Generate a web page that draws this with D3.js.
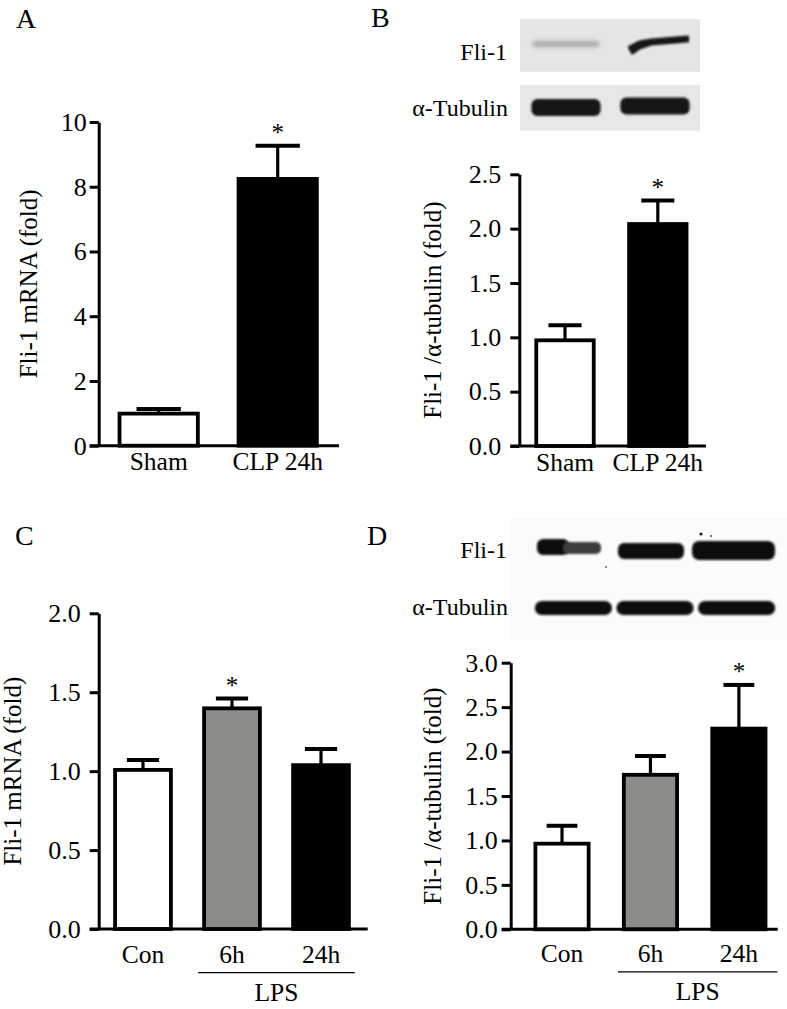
<!DOCTYPE html>
<html><head><meta charset="utf-8">
<script src="https://cdn.jsdelivr.net/npm/d3@7"></script>
<style>
body{margin:0;background:#fff;}
svg{display:block;}
</style></head><body>
<svg id="chart" width="787" height="1009"></svg>
<script>
// ---------- data ----------
const catsA  = ["Sham", "CLP 24h"];
const meanA  = [1.05, 8.30];
const errA   = [0.08, 0.97];
const sigA   = [false, true];
const ticksA = [0, 2, 4, 6, 8, 10];

const catsB  = ["Sham", "CLP 24h"];
const meanB  = [0.99, 2.06];
const errB   = [0.12, 0.20];
const sigB   = [false, true];
const ticksB = [0, 0.5, 1.0, 1.5, 2.0, 2.5];

const catsC  = ["Con", "6h", "24h"];
const meanC  = [1.02, 1.41, 1.05];
const errC   = [0.05, 0.05, 0.09];
const sigC   = [false, true, false];
const ticksC = [0, 0.5, 1.0, 1.5, 2.0];

const catsD  = ["Con", "6h", "24h"];
const meanD  = [0.985, 1.76, 2.28];
const errD   = [0.18, 0.19, 0.47];
const sigD   = [false, false, true];
const ticksD = [0, 0.5, 1.0, 1.5, 2.0, 2.5, 3.0];

const fills2 = ["#ffffff", "#000000"];
const fills3 = ["#ffffff", "#8b8c88", "#000000"];
const panelLetters = ["A", "B", "C", "D"];
const blotLabels = ["Fli-1", "α-Tubulin"];
const groupLabel = "LPS";
const titleMRNA = "Fli-1 mRNA (fold)";
const titleRatio = "Fli-1 /α-tubulin (fold)";

const FONT = "'Liberation Serif', 'Times New Roman', 'DejaVu Serif', serif";

const svg = d3.select("#chart").attr("font-family", FONT);
const defs = svg.append("defs");
defs.append("filter").attr("id","blur1").attr("x","-20%").attr("y","-60%").attr("width","140%").attr("height","220%")
  .append("feGaussianBlur").attr("stdDeviation",1.3);
defs.append("filter").attr("id","blur2").attr("x","-20%").attr("y","-100%").attr("width","140%").attr("height","300%")
  .append("feGaussianBlur").attr("stdDeviation",2.2);

function panel(cfg){
  const g = svg.append("g");
  const y = d3.scaleLinear().domain(cfg.yDomain).range(cfg.yRange);
  const x = d3.scaleBand().domain(cfg.cats).range(cfg.xRange)
              .paddingInner(cfg.pad).paddingOuter(cfg.pad/2);
  const bw = x.bandwidth();
  const sw = 3.8;
  const y0 = y(0);

  g.selectAll("rect.bar").data(cfg.cats).join("rect").attr("class","bar")
    .attr("x", d => x(d) + sw/2)
    .attr("width", bw - sw)
    .attr("y", (d,i) => y(cfg.mean[i]) + sw/2)
    .attr("height", (d,i) => y0 - y(cfg.mean[i]) - sw/2)
    .attr("fill", (d,i) => cfg.fills[i])
    .attr("stroke", "#000").attr("stroke-width", sw);

  cfg.cats.forEach((c,i) => {
    const cx = x(c) + bw/2;
    const top = y(cfg.mean[i] + cfg.err[i]);
    g.append("line").attr("x1",cx).attr("x2",cx)
      .attr("y1", y(cfg.mean[i]) + 1).attr("y2", top)
      .attr("stroke","#000").attr("stroke-width",3.2);
    g.append("line").attr("x1",cx - bw*0.27).attr("x2",cx + bw*0.27)
      .attr("y1", top).attr("y2", top)
      .attr("stroke","#000").attr("stroke-width",4);
    if (cfg.sig[i]) {
      g.append("text").attr("x",cx).attr("y",top - 4.5)
        .attr("text-anchor","middle").attr("font-size",25).text("*");
    }
    g.append("text").attr("x",cx).attr("y",y0 + cfg.labOff)
      .attr("text-anchor","middle").attr("font-size",25.5).text(c);
  });

  const ax = d3.axisLeft(y).tickValues(cfg.ticks).tickSize(9).tickPadding(cfg.tickPad)
               .tickSizeOuter(0).tickFormat(cfg.fmt);
  const ag = g.append("g").attr("transform",`translate(${cfg.axisX},0)`).call(ax);
  ag.attr("font-size",26).attr("font-family",FONT);
  ag.select(".domain").attr("stroke","#000").attr("stroke-width",3);
  ag.selectAll(".tick line").attr("stroke","#000").attr("stroke-width",3);
  ag.selectAll(".tick text").attr("fill","#000");
  g.append("line").attr("x1",cfg.axisX - 9).attr("x2",cfg.xEnd)
    .attr("y1",y0).attr("y2",y0).attr("stroke","#000").attr("stroke-width",3);

  const cy = (cfg.yRange[0] + cfg.yRange[1]) / 2;
  g.append("text").attr("transform",`translate(${cfg.titleX},${cy}) rotate(-90)`)
    .attr("text-anchor","middle").attr("font-size",25).text(cfg.title);

  if (cfg.group) {
    const xa = x(cfg.cats[1]) - 4, xb = x(cfg.cats[2]) + bw + cfg.group.ext;
    g.append("line").attr("x1",xa).attr("x2",xb).attr("y1",y0 + cfg.group.lineOff).attr("y2",y0 + cfg.group.lineOff)
      .attr("stroke","#000").attr("stroke-width",1.3);
    g.append("text").attr("x",(xa + xb)/2).attr("y",y0 + cfg.group.textOff)
      .attr("text-anchor","middle").attr("font-size",25.5).text(groupLabel);
  }
  return {x, y};
}

const fmtInt = d3.format("d"), fmt1 = d3.format(".1f");

panel({cats:catsA, mean:meanA, err:errA, sig:sigA, fills:fills2, ticks:ticksA, fmt:fmtInt,
  yDomain:[0,10], yRange:[445.7,122], xRange:[99.2,337.2], pad:0.31, axisX:98.7, xEnd:339,
  tickPad:3, labOff:24.5, title:titleMRNA, titleX:37});
panel({cats:catsB, mean:meanB, err:errB, sig:sigB, fills:fills2, ticks:ticksB, fmt:fmt1,
  yDomain:[0,2.5], yRange:[446,174.3], xRange:[518.6,704.2], pad:0.34, axisX:519.3, xEnd:706,
  tickPad:9, labOff:24.5, title:titleRatio, titleX:441});
panel({cats:catsC, mean:meanC, err:errC, sig:sigC, fills:fills3, ticks:ticksC, fmt:fmt1,
  yDomain:[0,2], yRange:[929,613.3], xRange:[98.5,365.5], pad:0.33, axisX:98.7, xEnd:367.7,
  tickPad:9, labOff:34, title:titleMRNA, titleX:21, group:{lineOff:43.7, textOff:72, ext:4}});
panel({cats:catsD, mean:meanD, err:errD, sig:sigD, fills:fills3, ticks:ticksD, fmt:fmt1,
  yDomain:[0,3], yRange:[929.3,662.7], xRange:[517.8,783.1], pad:0.355, axisX:510.7, xEnd:777.7,
  tickPad:4, labOff:33, title:titleRatio, titleX:441, group:{lineOff:42.5, textOff:71, ext:10}});

const letterPos = [[16,28],[371,27],[15,545],[367,545]];
panelLetters.forEach((L,i) => {
  svg.append("text").attr("x",letterPos[i][0]).attr("y",letterPos[i][1])
    .attr("font-size",28).text(L);
});

// ---------- western blots (illustrative) ----------
const blotB = svg.append("g");
const laneB = d3.scaleBand().domain([0,1]).range([521.5,699.5]).paddingInner(0.2).paddingOuter(0.1);
blotB.append("rect").attr("x",520).attr("y",19.3).attr("width",180).attr("height",52.4).attr("fill","#e5e5e5");
blotB.append("rect").attr("x",520).attr("y",85).attr("width",180).attr("height",45.7).attr("fill","#e7e7e7");
blotB.append("rect").attr("x",laneB(0)+2).attr("y",41).attr("width",laneB.bandwidth()-4).attr("height",6)
  .attr("rx",3).attr("fill","#a9a9a9").attr("filter","url(#blur2)");
{
  const a = laneB(1) + 10, b = laneB(1) + laneB.bandwidth() - 3;
  blotB.append("path").attr("d",
    `M${a},47 L${a+10},42 L${a+22},40 L${b},37 L${b},41 L${a+22},44 L${a+10},48 L${a+3},53 Z`)
    .attr("fill","#151515").attr("stroke","#151515").attr("stroke-width",3).attr("stroke-linejoin","round")
    .attr("filter","url(#blur1)");
}
[0,1].forEach(i => {
  blotB.append("rect").attr("x",laneB(i)+1).attr("y",99 - i*1.5).attr("width",laneB.bandwidth()-2).attr("height",17)
    .attr("rx",6).attr("fill","#161616").attr("filter","url(#blur1)");
});

const blotD = svg.append("g");
const laneD = d3.scaleBand().domain([0,1,2]).range([533,777]).paddingInner(0.03).paddingOuter(0.01);
blotD.append("rect").attr("x",510).attr("y",518).attr("width",277).attr("height",122).attr("fill","#fbfbfb");
blotD.append("rect").attr("x",537).attr("y",539).attr("width",32).attr("height",16).attr("rx",6)
  .attr("fill","#101010").attr("filter","url(#blur1)");
blotD.append("rect").attr("x",563).attr("y",542).attr("width",38).attr("height",12).attr("rx",5)
  .attr("fill","#3c3c3c").attr("filter","url(#blur1)");
blotD.append("rect").attr("x",618).attr("y",543).attr("width",66).attr("height",16).attr("rx",6)
  .attr("fill","#0e0e0e").attr("filter","url(#blur1)");
blotD.append("rect").attr("x",692).attr("y",541).attr("width",83).attr("height",19).attr("rx",7)
  .attr("fill","#0e0e0e").attr("filter","url(#blur1)");
blotD.append("circle").attr("cx",701).attr("cy",534).attr("r",1.6).attr("fill","#222");
blotD.append("circle").attr("cx",711).attr("cy",536).attr("r",1).attr("fill","#444");
blotD.append("circle").attr("cx",606).attr("cy",567).attr("r",0.9).attr("fill","#555");
[0,1,2].forEach(i => {
  blotD.append("rect").attr("x",laneD(i)+1).attr("y",601).attr("width",laneD.bandwidth()-2).attr("height",14)
    .attr("rx",7).attr("fill","#0c0c0c").attr("filter","url(#blur1)");
});

const blotLabelPos = [[507,60],[508,116],[507,558],[508,615]];
blotLabelPos.forEach((p,i) => {
  svg.append("text").attr("x",p[0]).attr("y",p[1]).attr("text-anchor","end")
    .attr("font-size",24).text(blotLabels[i % 2]);
});

svg.selectAll("text").style("font-family", FONT).attr("fill","#000");
</script>
</body></html>
